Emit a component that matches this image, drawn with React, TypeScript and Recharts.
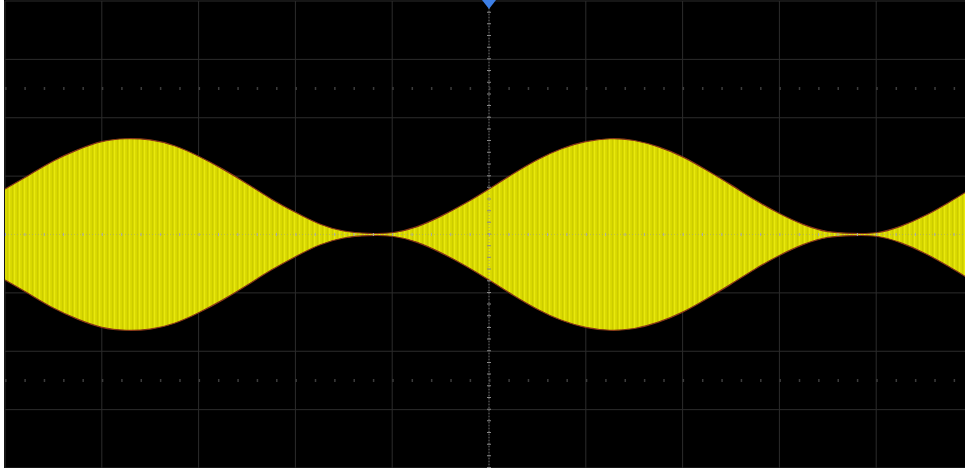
import {
  ComposedChart,
  Area,
  XAxis,
  YAxis,
  CartesianGrid,
  ReferenceLine,
  ReferenceDot,
} from "recharts";

// time axis in divisions (screen is 10 div wide, 8 div tall)
const times = [
  -5, -4.75, -4.5, -4.25, -4, -3.75, -3.5, -3.25, -3, -2.75, -2.5, -2.25, -2,
  -1.75, -1.5, -1.25, -1, -0.75, -0.5, -0.25, 0, 0.25, 0.5, 0.75, 1, 1.25, 1.5,
  1.75, 2, 2.25, 2.5, 2.75, 3, 3.25, 3.5, 3.75, 4, 4.25, 4.5, 4.75, 5,
];

// AM envelope, in divisions
const envTop = [
  0.78, 1.02, 1.26, 1.45, 1.59, 1.64, 1.62, 1.52, 1.34, 1.12, 0.87, 0.61, 0.38,
  0.18, 0.06, 0.02, 0.03, 0.13, 0.31, 0.53, 0.78, 1.04, 1.28, 1.47, 1.59, 1.64,
  1.61, 1.5, 1.33, 1.1, 0.85, 0.59, 0.36, 0.17, 0.05, 0.02, 0.03, 0.14, 0.32,
  0.55, 0.8,
];
const envBottom = [
  -0.78, -1.02, -1.26, -1.45, -1.59, -1.64, -1.62, -1.52, -1.34, -1.12, -0.87,
  -0.61, -0.38, -0.18, -0.06, -0.02, -0.03, -0.13, -0.31, -0.53, -0.78, -1.04,
  -1.28, -1.47, -1.59, -1.64, -1.61, -1.5, -1.33, -1.1, -0.85, -0.59, -0.36,
  -0.17, -0.05, -0.02, -0.03, -0.14, -0.32, -0.55, -0.8,
];

const xGrid = [-5, -4, -3, -2, -1, 0, 1, 2, 3, 4, 5];
const yGrid = [-4, -3, -2, -1, 0, 1, 2, 3, 4];
const minorRows = [-2.5, 2.5];

const data = times.map((t, i) => ({ t, env: [envBottom[i], envTop[i]] }));

const Marker = (props: any) => {
  const { cx, cy } = props;
  return (
    <polygon
      points={`${cx - 7},${cy - 1} ${cx + 7},${cy - 1} ${cx},${cy + 8}`}
      fill="#3d7fe6"
    />
  );
};

export default function App() {
  return (
    <div
      style={{
        position: "absolute",
        left: 0,
        top: 0,
        width: 965,
        height: 470,
        background: "#fff",
      }}
    >
      <div
        style={{
          position: "absolute",
          left: 4,
          top: 0,
          width: 961,
          height: 468,
          background: "#000",
          overflow: "hidden",
        }}
      >
        <ComposedChart
          width={969}
          height={469}
          data={data}
          margin={{ top: 1, right: 0, bottom: 1, left: 1 }}
        >
          <defs>
            <pattern
              id="carrier"
              width="5"
              height="10"
              patternUnits="userSpaceOnUse"
            >
              <rect width="5" height="10" fill="#d8d800" />
              <rect x="0" width="1.2" height="10" fill="#e8e80e" />
              <rect x="3" width="0.8" height="10" fill="#caca00" />
            </pattern>
          </defs>
          <XAxis
            dataKey="t"
            type="number"
            domain={[-5, 5]}
            ticks={xGrid}
            hide
          />
          <YAxis type="number" domain={[-4, 4]} ticks={yGrid} hide />
          <CartesianGrid stroke="#2c2c2c" strokeWidth={1} />
          {minorRows.map((y) => (
            <ReferenceLine
              key={y}
              y={y}
              stroke="#3c3c3c"
              strokeWidth={3}
              strokeDasharray="1.5 17.86"
            />
          ))}
          <Area
            dataKey="env"
            type="natural"
            fill="url(#carrier)"
            fillOpacity={1}
            stroke="#8a3818"
            strokeWidth={1.2}
            isAnimationActive={false}
            dot={false}
            activeDot={false}
          />
          <ReferenceLine
            x={0}
            stroke="#8c8c8c"
            strokeOpacity={0.6}
            strokeDasharray="1 2"
          />
          <ReferenceLine
            x={0}
            stroke="#888"
            strokeWidth={4}
            strokeDasharray="1 10.675"
          />
          <ReferenceLine
            y={0}
            stroke="#9a9a9a"
            strokeOpacity={0.5}
            strokeDasharray="1 2"
          />
          <ReferenceLine
            y={0}
            stroke="#aaa"
            strokeWidth={3}
            strokeDasharray="1 18.36"
          />
          <ReferenceDot x={0} y={4} r={7} shape={Marker} />
        </ComposedChart>
      </div>
    </div>
  );
}
